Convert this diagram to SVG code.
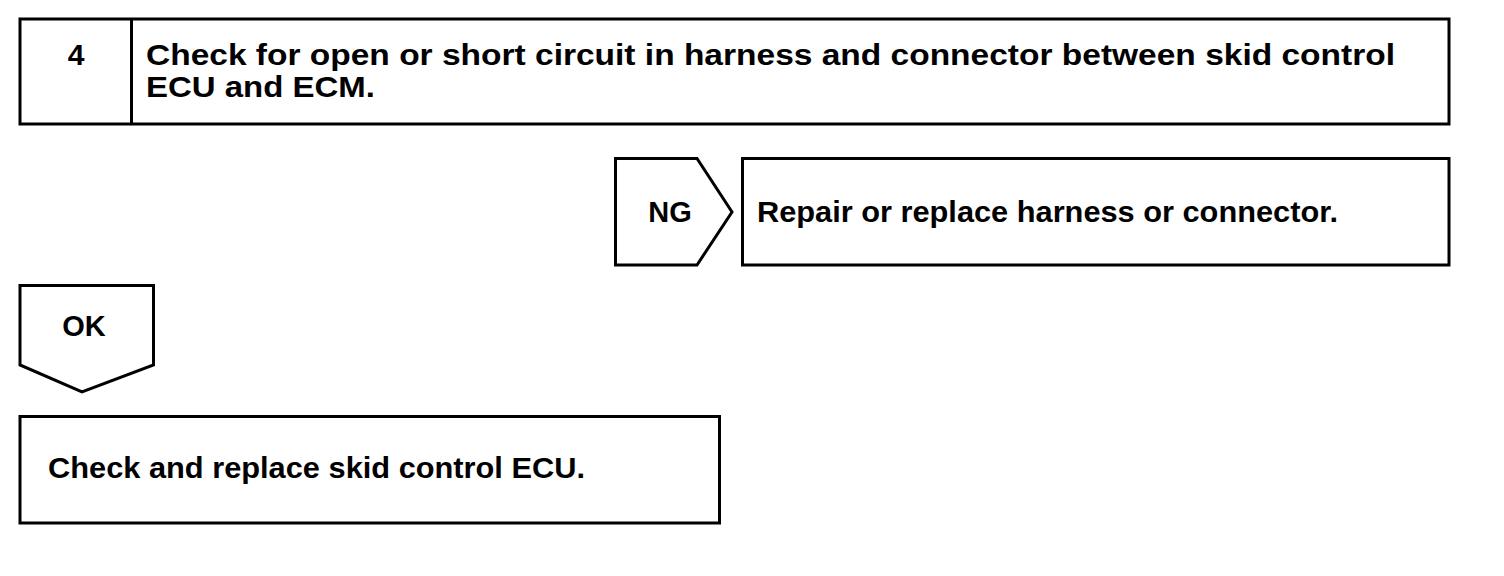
<svg xmlns="http://www.w3.org/2000/svg" width="1504" height="576" viewBox="0 0 1504 576">
<style>
.b{fill:#fff;stroke:#000;stroke-width:3}
.t{font-family:"Liberation Sans",Arial,sans-serif;font-weight:bold;font-size:29px;fill:#000}
.h{font-size:30px}
</style>
<rect width="1504" height="576" fill="#fff"/>
<g id="step4">
<rect class="b" x="20" y="19" width="1429" height="105"/>
<line x1="131.5" y1="19" x2="131.5" y2="124" stroke="#000" stroke-width="3"/>
<text class="t h" x="76" y="65" text-anchor="middle">4</text>
<text class="t h" x="146" y="65" textLength="1249" lengthAdjust="spacingAndGlyphs">Check for open or short circuit in harness and connector between skid control</text>
<text class="t h" x="146" y="97" textLength="229" lengthAdjust="spacingAndGlyphs">ECU and ECM.</text>
</g>
<g id="ng">
<polygon class="b" points="615.5,158.5 697,158.5 732,212 697,265 615.5,265"/>
<text class="t" x="670" y="222" text-anchor="middle">NG</text>
</g>
<g id="repair">
<rect class="b" x="742.5" y="158.5" width="706.5" height="106.5"/>
<text class="t" x="757" y="222" textLength="581" lengthAdjust="spacingAndGlyphs">Repair or replace harness or connector.</text>
</g>
<g id="ok">
<polygon class="b" points="20,285.5 153.5,285.5 153.5,365 82,392 20,365"/>
<text class="t" x="84" y="336" text-anchor="middle">OK</text>
</g>
<g id="replace">
<rect class="b" x="20" y="416.5" width="699.5" height="106.5"/>
<text class="t" x="48" y="478" textLength="537" lengthAdjust="spacingAndGlyphs">Check and replace skid control ECU.</text>
</g>
<g id="connectors"></g>
</svg>
